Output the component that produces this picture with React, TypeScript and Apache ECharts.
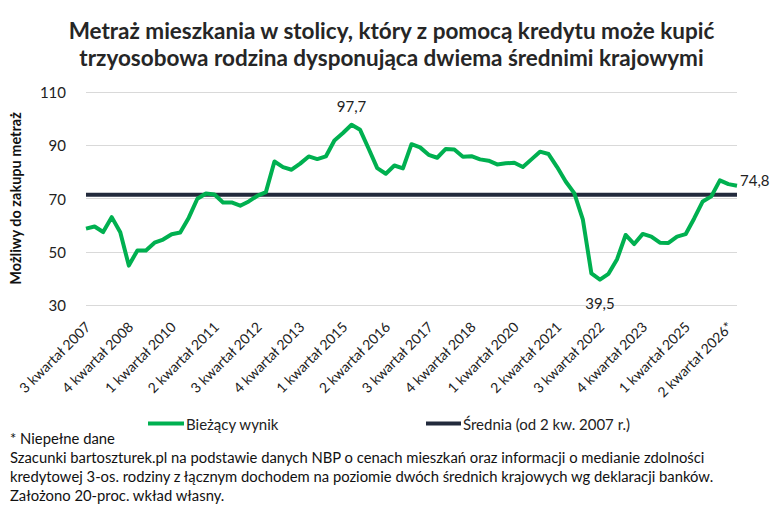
import React, { useEffect, useRef } from "react";
import * as echarts from "echarts";

const categories = [
  "2 kwartał 2007", "3 kwartał 2007", "4 kwartał 2007",
  "1 kwartał 2008", "2 kwartał 2008", "3 kwartał 2008", "4 kwartał 2008",
  "1 kwartał 2009", "2 kwartał 2009", "3 kwartał 2009", "4 kwartał 2009",
  "1 kwartał 2010", "2 kwartał 2010", "3 kwartał 2010", "4 kwartał 2010",
  "1 kwartał 2011", "2 kwartał 2011", "3 kwartał 2011", "4 kwartał 2011",
  "1 kwartał 2012", "2 kwartał 2012", "3 kwartał 2012", "4 kwartał 2012",
  "1 kwartał 2013", "2 kwartał 2013", "3 kwartał 2013", "4 kwartał 2013",
  "1 kwartał 2014", "2 kwartał 2014", "3 kwartał 2014", "4 kwartał 2014",
  "1 kwartał 2015", "2 kwartał 2015", "3 kwartał 2015", "4 kwartał 2015",
  "1 kwartał 2016", "2 kwartał 2016", "3 kwartał 2016", "4 kwartał 2016",
  "1 kwartał 2017", "2 kwartał 2017", "3 kwartał 2017", "4 kwartał 2017",
  "1 kwartał 2018", "2 kwartał 2018", "3 kwartał 2018", "4 kwartał 2018",
  "1 kwartał 2019", "2 kwartał 2019", "3 kwartał 2019", "4 kwartał 2019",
  "1 kwartał 2020", "2 kwartał 2020", "3 kwartał 2020", "4 kwartał 2020",
  "1 kwartał 2021", "2 kwartał 2021", "3 kwartał 2021", "4 kwartał 2021",
  "1 kwartał 2022", "2 kwartał 2022", "3 kwartał 2022", "4 kwartał 2022",
  "1 kwartał 2023", "2 kwartał 2023", "3 kwartał 2023", "4 kwartał 2023",
  "1 kwartał 2024", "2 kwartał 2024", "3 kwartał 2024", "4 kwartał 2024",
  "1 kwartał 2025", "2 kwartał 2025", "3 kwartał 2025", "4 kwartał 2025",
  "1 kwartał 2026", "2 kwartał 2026*",
];

const currentValues = [
  58.7, 59.5, 57.4, 63.0, 57.3, 44.8, 50.5, 50.5, 53.4, 54.6,
  56.6, 57.2, 62.8, 69.9, 71.9, 71.5, 68.5, 68.5, 67.3, 68.9,
  71.0, 72.4, 83.9, 81.8, 80.8, 83.1, 85.8, 84.8, 85.8, 91.8,
  94.6, 97.7, 95.8, 88.7, 81.4, 79.3, 82.4, 81.3, 90.4, 89.2,
  86.4, 85.3, 88.6, 88.4, 85.7, 85.9, 84.7, 84.2, 82.8, 83.2,
  83.4, 81.8, 84.7, 87.6, 86.7, 81.8, 76.4, 72.0, 62.2, 41.9,
  39.5, 41.7, 47.2, 56.3, 52.9, 56.7, 55.7, 53.4, 53.3, 55.7,
  56.6, 62.5, 68.9, 70.8, 76.8, 75.4, 74.8,
];

const averageValue = 71.4;

// indices of points that carry a data label
const labelledPoints = [31, 60, 76];

const yTicks = { min: 30, max: 110, interval: 20 };

const seriesNames = ["Bieżący wynik", "Średnia (od 2 kw. 2007 r.)"];

const titleText =
  "Metraż mieszkania w stolicy, który z pomocą kredytu może kupić\ntrzyosobowa rodzina dysponująca dwiema średnimi krajowymi";

const footnoteText = [
  "* Niepełne dane",
  "Szacunki bartoszturek.pl na podstawie danych NBP o cenach mieszkań oraz informacji o medianie zdolności",
  "kredytowej 3-os. rodziny z łącznym dochodem na poziomie dwóch średnich krajowych wg deklaracji banków.",
  "Założono 20-proc. wkład własny.",
];

const FONT = "Lato, 'Open Sans', sans-serif";

const labelPlacement: Record<number, any> = {
  31: { position: "top", distance: 11 },
  60: { position: "bottom", distance: 16 },
  76: { position: "right", distance: 3, offset: [0, -6] },
};

export default function App() {
  const ref = useRef<HTMLDivElement>(null);

  useEffect(() => {
    document.body.style.margin = "0";
    if (!ref.current) return;
    const chart = echarts.init(ref.current, undefined, { renderer: "svg" });

    const fmt = (v: number) => v.toFixed(1).replace(".", ",");

    const greenData = currentValues.map((v, i) => {
      if (labelledPoints.indexOf(i) < 0) return v;
      return {
        value: v,
        label: {
          show: true,
          ...labelPlacement[i],
          formatter: () => fmt(v),
          fontSize: 15,
          color: "#222",
          fontFamily: FONT,
        },
      };
    });

    const legendText = { fontSize: 15, color: "#222", fontFamily: FONT, padding: [0, 0, 0, -3] };

    chart.setOption({
      animation: false,
      backgroundColor: "#ffffff",
      textStyle: { fontFamily: FONT },
      title: {
        text: titleText,
        left: "center",
        top: 12,
        textStyle: {
          fontSize: 22.5,
          fontWeight: "bold",
          color: "#262626",
          lineHeight: 27,
          fontFamily: FONT,
        },
      },
      legend: [
        {
          data: [seriesNames[0]],
          left: 143,
          top: 411,
          icon: "rect",
          itemWidth: 36,
          itemHeight: 4,
          textStyle: legendText,
        },
        {
          data: [seriesNames[1]],
          left: 421,
          top: 411,
          icon: "rect",
          itemWidth: 35,
          itemHeight: 4,
          textStyle: legendText,
        },
      ],
      grid: { left: 86, right: 46, top: 92, bottom: 207, containLabel: false },
      xAxis: {
        type: "category",
        data: categories,
        boundaryGap: false,
        axisLine: { show: false },
        axisTick: { show: false },
        splitLine: { show: false },
        axisLabel: {
          interval: (index: number) => index % 5 === 1,
          rotate: 45,
          margin: 12,
          padding: [0, 10, 0, 0],
          fontSize: 14,
          color: "#222",
          fontFamily: FONT,
        },
      },
      yAxis: {
        type: "value",
        min: yTicks.min,
        max: yTicks.max,
        interval: yTicks.interval,
        name: "Możliwy do zakupu metraż",
        nameLocation: "middle",
        nameRotate: 90,
        nameGap: 63,
        nameTextStyle: { fontSize: 14.5, fontWeight: "bold", color: "#111", fontFamily: FONT },
        axisLine: { show: false },
        axisTick: { show: false },
        axisLabel: { fontSize: 15, color: "#222", margin: 20, fontFamily: FONT },
        splitLine: { lineStyle: { color: "#d9d9d9", width: 1 } },
      },
      series: [
        {
          name: seriesNames[0],
          type: "line",
          data: greenData,
          showSymbol: true,
          symbol: "circle",
          symbolSize: 0,
          lineStyle: { color: "#00B050", width: 4, join: "round" },
          itemStyle: { color: "#00B050" },
          z: 3,
        },
        {
          name: seriesNames[1],
          type: "line",
          data: categories.map(() => averageValue),
          showSymbol: false,
          symbol: "none",
          lineStyle: { color: "#222A3C", width: 4 },
          itemStyle: { color: "#222A3C" },
          z: 2,
        },
      ],
      graphic: [
        {
          type: "text",
          left: 10,
          top: 428,
          style: {
            text: footnoteText.join("\n"),
            font: `14.8px ${FONT}`,
            lineHeight: 19,
            fill: "#111",
          },
        },
      ],
    });

    return () => chart.dispose();
  }, []);

  return <div ref={ref} style={{ width: 783, height: 512 }} />;
}
